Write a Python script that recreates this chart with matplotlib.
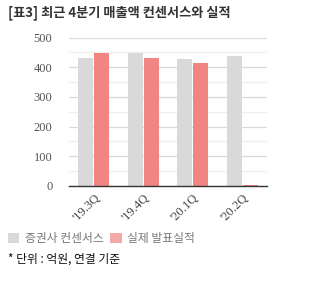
import numpy as np
import matplotlib
matplotlib.use("Agg")
import matplotlib.pyplot as plt
from matplotlib.patches import Patch

quarters = ["'19.3Q", "'19.4Q", "'20.1Q", "'20.2Q"]
consensus = [432, 449, 429, 439]
actual = [449, 432, 415, 2]

title = "[표3] 최근 4분기 매출액 컨센서스와 실적"
labels = ["증권사 컨센서스", "실제 발표실적"]
note = "* 단위 : 억원, 연결 기준"

gray = "#d9d9d9"
red = "#f08583"
kr = ["Noto Sans CJK KR", "DejaVu Sans"]
serif = "Liberation Serif"

fig = plt.figure(figsize=(3.25, 2.87), dpi=100)
ax = fig.add_axes([0.2123, 0.352, 0.609, 0.517])

x = np.arange(len(quarters))
w = 0.3
ax.bar(x - w / 2 - 0.01, consensus, w, color=gray, zorder=3)
ax.bar(x + w / 2 + 0.01, actual, w, color=red, zorder=3)

ax.set_xlim(-0.5, len(quarters) - 0.5)
ax.set_ylim(0, 500)
ax.set_yticks(range(0, 501, 100))
ax.set_yticks(range(50, 500, 100), minor=True)
ax.grid(axis="y", which="major", color="#d9d9d9", lw=0.9, zorder=0)
ax.grid(axis="y", which="minor", color="#eeeeee", lw=0.9, zorder=0)
for s in ["top", "right", "left"]:
    ax.spines[s].set_visible(False)
ax.spines["bottom"].set_color("#333333")
ax.spines["bottom"].set_linewidth(1.0)
ax.spines["bottom"].set_zorder(4)
ax.tick_params(axis="y", which="both", length=0, pad=12,
               labelsize=9, labelcolor="#555555")
ax.tick_params(axis="x", length=0, pad=4, labelsize=9, labelcolor="#444444")
for t in ax.get_yticklabels():
    t.set_family(serif)
ax.set_xticks(x)
ax.set_xticklabels(quarters, rotation=45, ha="right", rotation_mode="anchor",
                   family=serif)

fig.text(0.025, 0.955, title, family=kr, fontsize=9.5, fontweight="bold",
         color="#333333", va="center", ha="left")

handles = [Patch(facecolor=gray, edgecolor="none"),
           Patch(facecolor=red, edgecolor="none", alpha=0.7)]
fig.legend(handles, labels, loc="center left", bbox_to_anchor=(0.025, 0.168),
           ncol=2, frameon=False, handlelength=0.95, handleheight=0.95,
           handletextpad=0.45, columnspacing=0.6, borderaxespad=0.0,
           borderpad=0.0, prop={"family": kr, "size": 8.5},
           labelcolor="#777777")

fig.text(0.025, 0.097, note, family=kr, fontsize=8.5, color="#111111",
         va="center", ha="left")

fig.savefig("out.png", dpi=100)
